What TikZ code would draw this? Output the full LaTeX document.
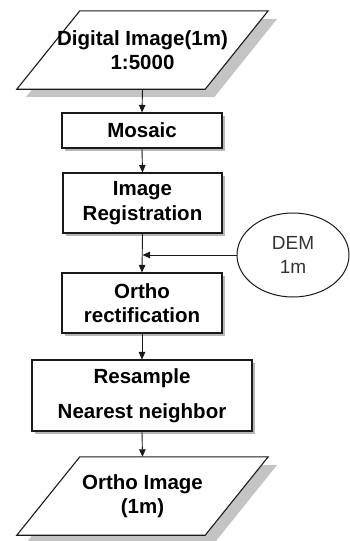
\documentclass[tikz,border=0pt]{standalone}
\usepackage{fontspec}
\setmainfont{Liberation Sans}
\usetikzlibrary{shapes.geometric,arrows.meta,shadows,calc,backgrounds}
\definecolor{shadowgray}{HTML}{C4C4C4}
\definecolor{linegray}{HTML}{1A1A1A}
\begin{document}
\begin{tikzpicture}[x=1pt,y=-1pt,
  boldtext/.style={font=\fontsize{20.5}{24.5}\selectfont\bfseries, align=center},
  procbox/.style={boldtext, draw=linegray, line width=1.1pt, fill=white, inner sep=0pt,
    drop shadow={shadow xshift=2.5pt, shadow yshift=-2.5pt, fill=black!40, opacity=0.7}},
  datatext/.style={boldtext, inner sep=0pt, minimum width=188pt, minimum height=78pt},
  dataframe/.style={draw=linegray, line width=1.1pt, fill=white},
  datashadow/.style={fill=shadowgray},
  flow/.style={draw=linegray, line width=0.9pt, -{Triangle[length=7.5pt,width=6.5pt]}}
]
\useasboundingbox (0,0) rectangle (350,541);

% input data
\node[datatext] (src) at (142.5,50) {Digital Image(1m)\\1:5000};
\begin{scope}[on background layer]
  \fill[datashadow] ($(src.north west)+(40.5,8)$) -- ($(src.north east)+(40.5,8)$)
    -- ($(src.south east)+(-22.5,8)$) -- ($(src.south west)+(-22.5,8)$) -- cycle;
  \path[dataframe] ($(src.north west)+(31.5,0)$) -- ($(src.north east)+(31.5,0)$)
    -- ($(src.south east)+(-31.5,0)$) -- ($(src.south west)+(-31.5,0)$) -- cycle;
\end{scope}

% processing steps
\node[procbox, minimum width=160pt, minimum height=35pt] (mosaic) at (142,130.5) {Mosaic};
\node[procbox, minimum width=159pt, minimum height=60pt] (reg) at (142.5,203) {Image\\Registration};
\node[procbox, minimum width=160pt, minimum height=60pt] (ortho) at (142,303) {Ortho\\rectification};
\node[procbox, minimum width=220pt, minimum height=71pt] (resamp) at (142,395.5) {Resample\\[11pt]Nearest neighbor};

% elevation model
\node[ellipse, draw=linegray, line width=1pt, fill=white, minimum width=112pt, minimum height=84pt,
  inner sep=0pt, align=center, text=black!80, font=\fontsize{19}{24}\selectfont] (dem) at (293,255) {DEM\\1m};
\coordinate (join) at (142.5,255);

% output data
\node[datatext] (out) at (142.5,496) {Ortho Image\\(1m)};
\begin{scope}[on background layer]
  \fill[datashadow] ($(out.north west)+(40.5,8)$) -- ($(out.north east)+(40.5,8)$)
    -- ($(out.south east)+(-22.5,8)$) -- ($(out.south west)+(-22.5,8)$) -- cycle;
  \path[dataframe] ($(out.north west)+(31.5,0)$) -- ($(out.north east)+(31.5,0)$)
    -- ($(out.south east)+(-31.5,0)$) -- ($(out.south west)+(-31.5,0)$) -- cycle;
\end{scope}

% connectors
\draw[flow] (src.south) -- (mosaic.north);
\draw[flow] (mosaic.south) -- (reg.north);
\draw[flow] (reg.south) -- (ortho.north);
\draw[flow] (dem.west) -- (join);
\draw[flow] (ortho.south) -- (resamp.north);
\draw[flow] (resamp.south) -- (out.north);
\end{tikzpicture}
\end{document}
